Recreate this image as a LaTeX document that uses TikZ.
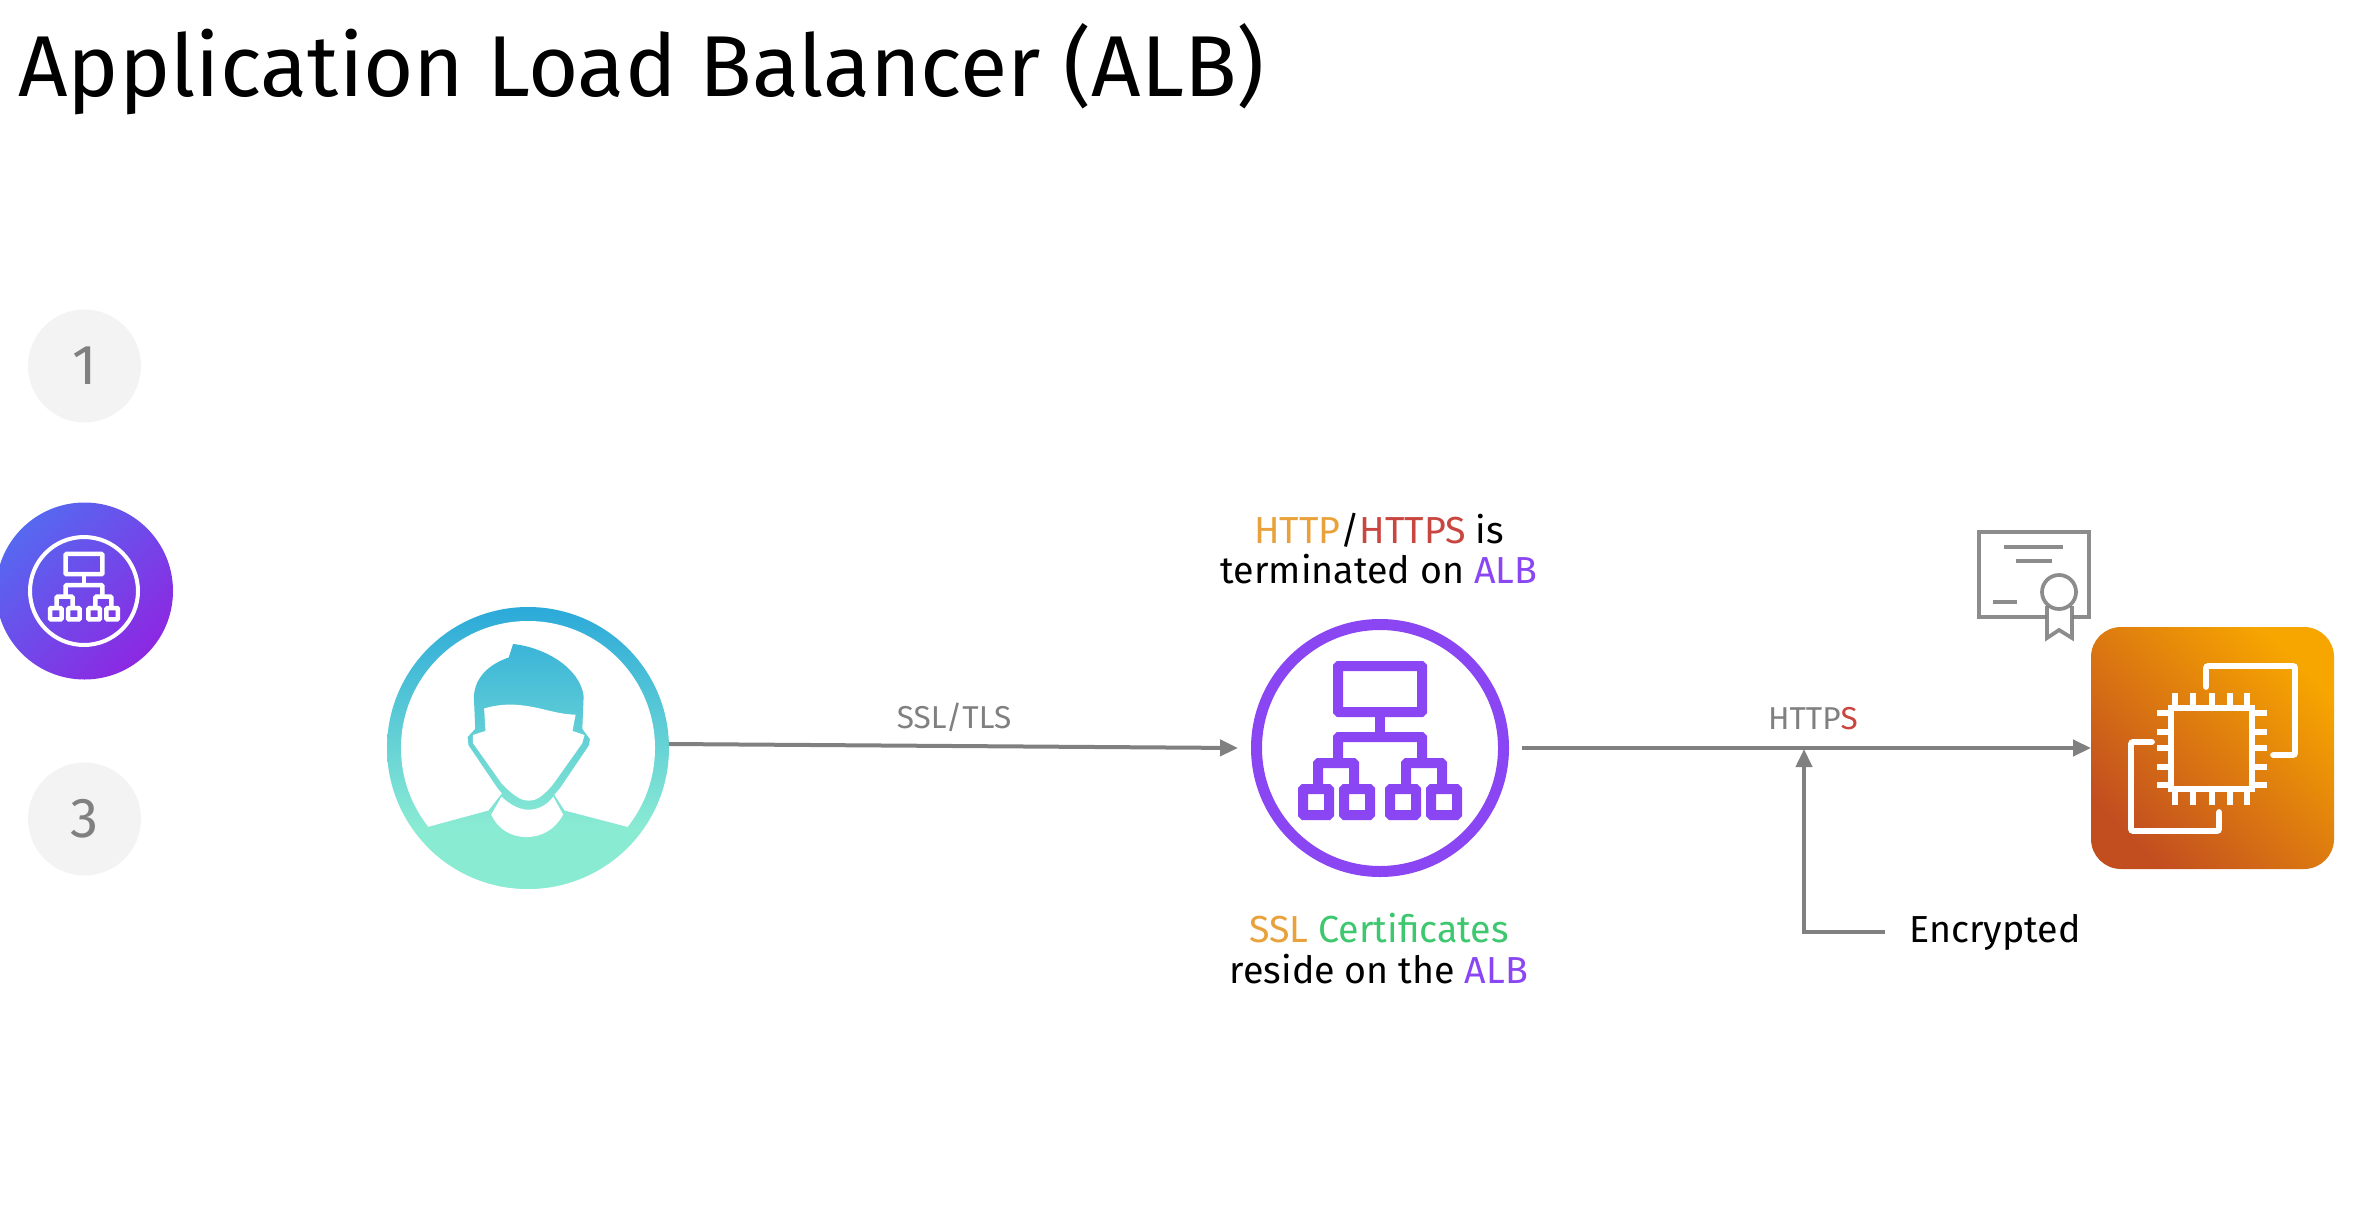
\documentclass[tikz,border=0pt]{standalone}
\usepackage{fontspec}
\setmainfont{Fira Sans}
\usetikzlibrary{arrows.meta,calc}
\definecolor{cgray}{HTML}{808080}
\definecolor{cpale}{HTML}{F3F3F3}
\definecolor{chttp}{HTML}{E9A23B}
\definecolor{chttps}{HTML}{C9453F}
\definecolor{calb}{HTML}{8A46F2}
\definecolor{ccert}{HTML}{3DC76E}
\definecolor{ublue}{HTML}{2BA9D9}
\definecolor{umint}{HTML}{8AEBD3}
\definecolor{albtl}{HTML}{5668F0}
\definecolor{albbr}{HTML}{8C28E2}
\definecolor{ectr}{HTML}{F7A600}
\definecolor{ecbl}{HTML}{C24E20}
\pgfdeclareverticalshading{userg}{100bp}{color(0bp)=(umint); color(36bp)=(umint); color(75bp)=(ublue); color(100bp)=(ublue)}
\tikzset{
  conn/.style={draw=cgray,line width=0.08cm,-{Triangle[length=0.36cm,width=0.32cm]}},
  lab/.style={inner sep=0pt,font=\fontsize{21.4}{26}\selectfont,text=black},
  glab/.style={inner sep=0pt,font=\fontsize{18}{22}\selectfont,text=cgray},
  num/.style={circle,fill=cpale,minimum size=2.26cm,inner sep=0pt,text=cgray,font=\fontsize{32}{38}\selectfont},
  anchorshape/.style={inner sep=0pt,outer sep=0pt},
}
\newcommand{\albtree}[5]{%
  \begin{scope}[shift={(#1,#2)},scale=#3,draw=#4,line width=#5,rounded corners=0.02cm,line cap=butt]
    \draw (-42,-82) rectangle (42,-36);
    \draw (0,-36) -- (0,-11);
    \draw (-42,14) -- (-42,-11) -- (42,-11) -- (42,14);
    \draw (-62,36) -- (-62,15) -- (-26,15) -- (-26,36);
    \draw (62,36) -- (62,15) -- (26,15) -- (26,36);
    \foreach \qx in {-64,-23,23,64}{\draw (\qx-13,41) rectangle (\qx+13,67);}
  \end{scope}}
\begin{document}
\begin{tikzpicture}[x=0.02cm,y=-0.02cm]
\useasboundingbox (0,0) rectangle (2368,1206);
\fill[white] (0,0) rectangle (2368,1206);
% title
\node[anchor=west,inner sep=0pt,font=\fontsize{49.2}{58}\selectfont,text=black] (title) at (18,69) {Application Load Balancer (ALB)};
% side bullets
\node[num] (n1) at (84.5,366) {\raisebox{-0.03cm}{1}};
\node[num] (n3) at (84.5,819) {\raisebox{-0.03cm}{3}};
\shade[top color=albtl,bottom color=albbr,shading angle=45] (84.5,591) circle (88.5);
\node[circle,minimum size=2.16cm,inner sep=0pt,draw=white,line width=0.08cm] (n2) at (84,591) {};
\albtree{84}{590}{0.44}{white}{0.09cm}
% user
\node[circle,minimum size=5.64cm,anchorshape] (user) at (528,748) {};
\shade[shading=userg] (528,748) circle (141);
\fill[white] (528,748) circle (127);
\begin{scope}[shift={(0,280)},x=0.008929cm,y=-0.008163cm]
  \begin{scope}
    \clip (960,1340) -- (1095,1300) -- (1125,1258) -- (1240,1258) -- (1265,1300) -- (1405,1340) -- (1405,1600) -- (960,1600) -- cycle
      (1140,925) -- (1150,892) .. controls (1220,900) and (1300,950) .. (1308,1020) -- (1305,1100) -- (1322,1125) -- (1320,1140) -- (1255,1245)
      .. controls (1225,1285) and (1205,1292) .. (1185,1292) .. controls (1165,1292) and (1145,1285) .. (1115,1245)
      -- (1050,1140) -- (1048,1120) -- (1065,1100) -- (1062,1020) .. controls (1065,970) and (1100,940) .. (1140,925) -- cycle;
    \shade[shading=userg] (1182,1146) ellipse (315 and 345.5);
  \end{scope}
  \fill[white] (1085,1050) .. controls (1130,1035) and (1170,1040) .. (1210,1050) .. controls (1240,1058) and (1265,1065) .. (1290,1065)
     -- (1283,1105) -- (1310,1115) -- (1305,1135) -- (1240,1235) .. controls (1215,1268) and (1200,1276) .. (1185,1276)
     .. controls (1170,1276) and (1155,1268) .. (1125,1235) -- (1060,1135) -- (1060,1115) -- (1088,1105) -- cycle;
  \fill[white] (1101,1310) -- (1124,1266) .. controls (1145,1288) and (1165,1298) .. (1185,1298)
     .. controls (1205,1298) and (1225,1288) .. (1240,1266) -- (1262,1310) .. controls (1245,1345) and (1215,1365) .. (1180,1365)
     .. controls (1145,1365) and (1115,1345) .. (1101,1310) -- cycle;
\end{scope}
% ALB
\node[circle,minimum size=5.68cm,anchorshape] (alb) at (1380,748) {};
\draw[calb,line width=0.22cm] (1380,748) circle (123.5);
\albtree{1380}{748}{1}{calb}{0.2cm}
% EC2
\node[rectangle,minimum width=4.86cm,minimum height=4.84cm,anchorshape] (ec2) at (2212.5,748) {};
\shade[top color=ectr,bottom color=ecbl,shading angle=-45,rounded corners=0.6cm] (2091,627) rectangle (2334,869);
\begin{scope}[draw=white,line width=0.115cm]
  \draw[rounded corners=0.04cm,line cap=round] (2206,687) -- (2206,666) -- (2295,666) -- (2295,755) -- (2273,755);
  \draw[rounded corners=0.04cm,line cap=round] (2152,742) -- (2131,742) -- (2131,831) -- (2219,831) -- (2219,812);
  \draw (2171,708) rectangle (2252,789);
  \foreach \pp in {2175,2193,2212,2230,2247}{\draw (\pp,693) -- (\pp,708); \draw (\pp,789) -- (\pp,805);}
  \foreach \pp in {713,732,748,767,785}{\draw (2157,\pp) -- (2171,\pp); \draw (2252,\pp) -- (2267,\pp);}
\end{scope}
% certificate
\begin{scope}[draw=cgray,line width=0.075cm,opacity=0.9]
  \draw (2047,617) -- (1979,617) -- (1979,532) -- (2089,532) -- (2089,617) -- (2072,617);
  \draw (2004,547) -- (2063,547);
  \draw (2016,561) -- (2052,561);
  \draw (1993,602) -- (2017,602);
  \draw (2059,592) circle (17);
  \draw (2047,606) -- (2047,638) -- (2059,630) -- (2072,638) -- (2072,606);
\end{scope}
% labels
\node[lab,align=center] (top1) at (1379,530) {\textcolor{chttp}{HTTP}/\textcolor{chttps}{HTTPS} is};
\node[lab,align=center] (top2) at (1379,569) {terminated on \textcolor{calb}{ALB}};
\node[lab,align=center] (bot1) at (1379,928) {\textcolor{chttp}{SSL} \textcolor{ccert}{Certificates}};
\node[lab,align=center] (bot2) at (1379,969) {reside on the \textcolor{calb}{ALB}};
\node[glab] (ssl) at (954,717) {SSL/TLS};
\node[glab] (https) at (1813,719) {HTTP\textcolor{chttps}{S}};
\node[lab,anchor=west,inner xsep=0.48cm,inner ysep=0pt] (enc) at (1885,932) {\raisebox{-0.03cm}{Encrypted}};
\coordinate (join) at (1804,749);
% connectors
\draw[conn] ([yshift=0.08cm]user.east) -- (alb.west);
\draw[conn] (alb.east) -- (ec2.west);
\draw[conn] (enc.west) -| (join);
\end{tikzpicture}
\end{document}
